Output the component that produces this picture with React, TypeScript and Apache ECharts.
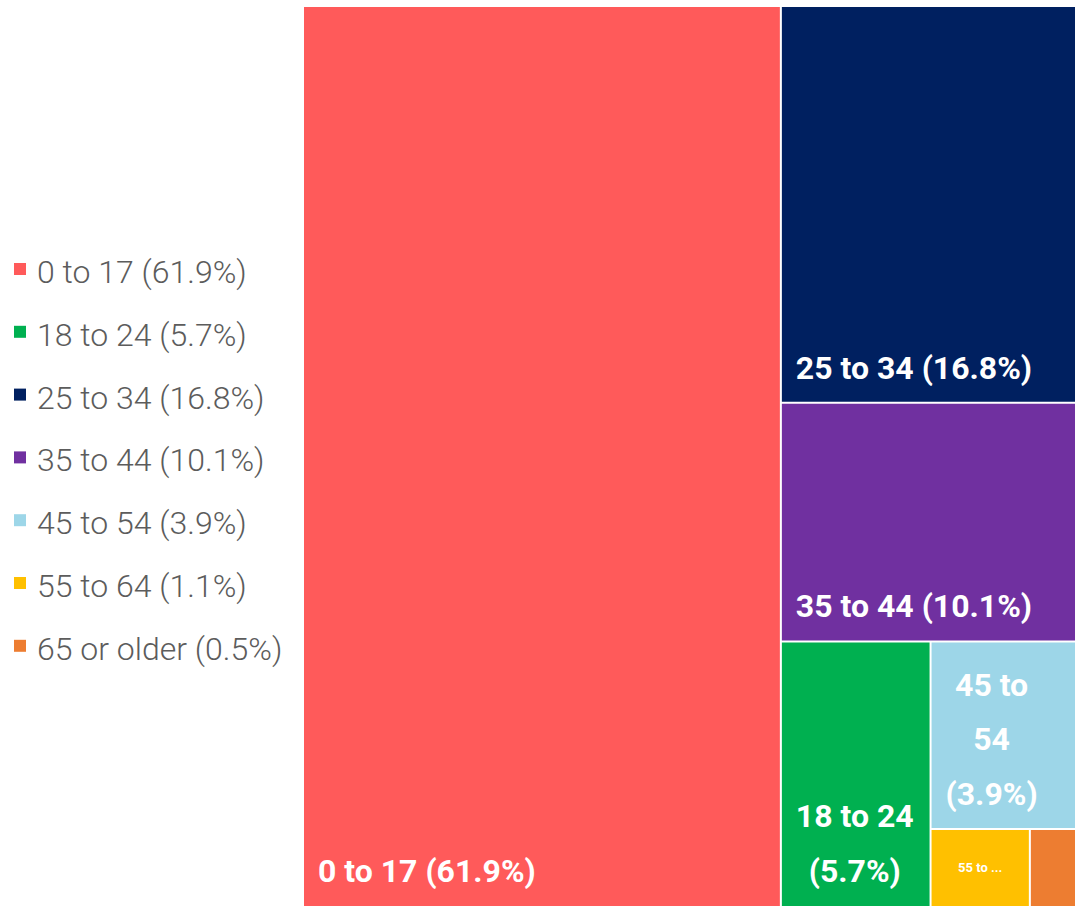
import React, { useEffect, useRef } from "react";
import * as echarts from "echarts";

const categories = ["0 to 17", "18 to 24", "25 to 34", "35 to 44", "45 to 54", "55 to 64", "65 or older"];
const shares = [61.9, 5.7, 16.8, 10.1, 3.9, 1.1, 0.5];
const colors = ["#FF5A5A", "#00B050", "#002060", "#7030A0", "#9DD6E8", "#FFC000", "#ED7D31"];

// label styling overrides per category (style only)
const smallLabel: Record<string, { fontSize?: number; centered?: boolean; truncateWidth?: number; hide?: boolean }> = {
  "55 to 64": { fontSize: 13, centered: true, truncateWidth: 48 },
  "65 or older": { hide: true },
};

const AREA = { x: 303, y: 6, w: 772, h: 900 };
const VIRTUAL_Y = 2 / 3; // squarify is computed on a wider virtual canvas, then stretched to the area

type R = { x: number; y: number; w: number; h: number };

function squarify(values: number[], area: R, yScale: number): R[] {
  const order = values.map((v, i) => i).sort((a, b) => values[b] - values[a]);
  const total = values.reduce((s, v) => s + v, 0);
  let r: R = { x: area.x, y: area.y * yScale, w: area.w, h: area.h * yScale };
  const k = (r.w * r.h) / total;
  const out: R[] = new Array(values.length);
  const worst = (row: number[], len: number) => {
    const areas = row.map((i) => values[i] * k);
    const s = areas.reduce((a, b) => a + b, 0);
    const mx = Math.max(...areas);
    const mn = Math.min(...areas);
    return Math.max((len * len * mx) / (s * s), (s * s) / (len * len * mn));
  };
  const place = (row: number[]) => {
    const s = row.reduce((a, i) => a + values[i] * k, 0);
    if (r.w <= r.h) {
      const t = s / r.w;
      let cx = r.x;
      row.forEach((i) => {
        const ww = (values[i] * k) / t;
        out[i] = { x: cx, y: r.y, w: ww, h: t };
        cx += ww;
      });
      r = { x: r.x, y: r.y + t, w: r.w, h: r.h - t };
    } else {
      const t = s / r.h;
      let cy = r.y;
      row.forEach((i) => {
        const hh = (values[i] * k) / t;
        out[i] = { x: r.x, y: cy, w: t, h: hh };
        cy += hh;
      });
      r = { x: r.x + t, y: r.y, w: r.w - t, h: r.h };
    }
  };
  let row: number[] = [];
  let idx = 0;
  while (idx < order.length) {
    const len = Math.min(r.w, r.h);
    const next = order[idx];
    if (row.length === 0 || worst([...row, next], len) <= worst(row, len)) {
      row.push(next);
      idx++;
    } else {
      place(row);
      row = [];
    }
  }
  if (row.length) place(row);
  return out.map((q) => ({ x: q.x, y: q.y / yScale, w: q.w, h: q.h / yScale }));
}

let measureCtx: CanvasRenderingContext2D | null = null;
function measure(text: string, font: string) {
  if (!measureCtx) measureCtx = document.createElement("canvas").getContext("2d");
  measureCtx!.font = font;
  return measureCtx!.measureText(text).width;
}

function wrap(text: string, font: string, maxW: number) {
  const words = text.split(" ");
  const lines: string[] = [];
  let cur = "";
  words.forEach((w) => {
    const t = cur ? cur + " " + w : w;
    if (cur && measure(t, font) > maxW) {
      lines.push(cur);
      cur = w;
    } else cur = t;
  });
  if (cur) lines.push(cur);
  return lines;
}

export default function App() {
  const ref = useRef<HTMLDivElement>(null);
  useEffect(() => {
    if (!ref.current) return;
    const chart = echarts.init(ref.current, undefined, { renderer: "svg" });
    const rects = squarify(shares, AREA, VIRTUAL_Y);

    const legendTop = 269;
    const legendStep = 62.8;
    const graphic: any[] = [];
    categories.forEach((name, i) => {
      const cy = legendTop + i * legendStep;
      graphic.push({
        type: "rect",
        shape: { x: 14, y: cy - 6, width: 12, height: 12 },
        style: { fill: colors[i] },
      });
      graphic.push({
        type: "text",
        x: 37,
        y: cy + 3,
        style: {
          text: `${name} (${shares[i]}%)`,
          fill: "#5c5c5c",
          font: "300 32px Roboto",
          verticalAlign: "middle",
        },
      });
    });

    chart.setOption({
      animation: false,
      graphic,
      series: [
        {
          type: "custom",
          coordinateSystem: "none",
          data: categories.map((name, i) => ({ name, value: shares[i] })),
          renderItem: (params: any, api: any) => {
            const i = params.dataIndex;
            const q = rects[i];
            const name = categories[i];
            const label = `${name} (${api.value(0)}%)`;
            const atRight = q.x + q.w >= AREA.x + AREA.w - 0.5;
            const atBottom = q.y + q.h >= AREA.y + AREA.h - 0.5;
            const children: any[] = [
              {
                type: "rect",
                shape: {
                  x: q.x + 1,
                  y: q.y + 1,
                  width: q.w - (atRight ? 1 : 2),
                  height: q.h - (atBottom ? 1 : 2),
                },
                style: { fill: colors[i] },
              },
            ];
            const ov = smallLabel[name] || {};
            if (!ov.hide) {
              const fs = ov.fontSize || 32;
              const font = `bold ${fs}px Roboto`;
              if (ov.centered) {
                children.push({
                  type: "text",
                  x: q.x + q.w / 2,
                  y: q.y + q.h / 2,
                  style: {
                    text: label,
                    fill: "#ffffff",
                    font,
                    align: "center",
                    verticalAlign: "middle",
                    width: ov.truncateWidth,
                    overflow: "truncate",
                    ellipsis: "...",
                  },
                });
              } else {
                const lines = wrap(label, font, q.w - 30);
                const left = q.x + 15;
                const bottom = q.y + q.h - 8;
                if (lines.length === 1) {
                  children.push({
                    type: "text",
                    x: left,
                    y: bottom,
                    style: { text: label, fill: "#ffffff", font, align: "left", verticalAlign: "bottom", lineHeight: 54 },
                  });
                } else {
                  const mw = Math.max(...lines.map((l) => measure(l, font)));
                  children.push({
                    type: "text",
                    x: left + mw / 2,
                    y: bottom,
                    style: {
                      text: lines.join("\n"),
                      fill: "#ffffff",
                      font,
                      align: "center",
                      verticalAlign: "bottom",
                      lineHeight: 54.5,
                    },
                  });
                }
              }
            }
            return { type: "group", children };
          },
        },
      ],
    });
    return () => chart.dispose();
  }, []);
  return (
    <div
      ref={ref}
      style={{ position: "fixed", left: 0, top: 0, width: 1075, height: 906, background: "#ffffff" }}
    />
  );
}
